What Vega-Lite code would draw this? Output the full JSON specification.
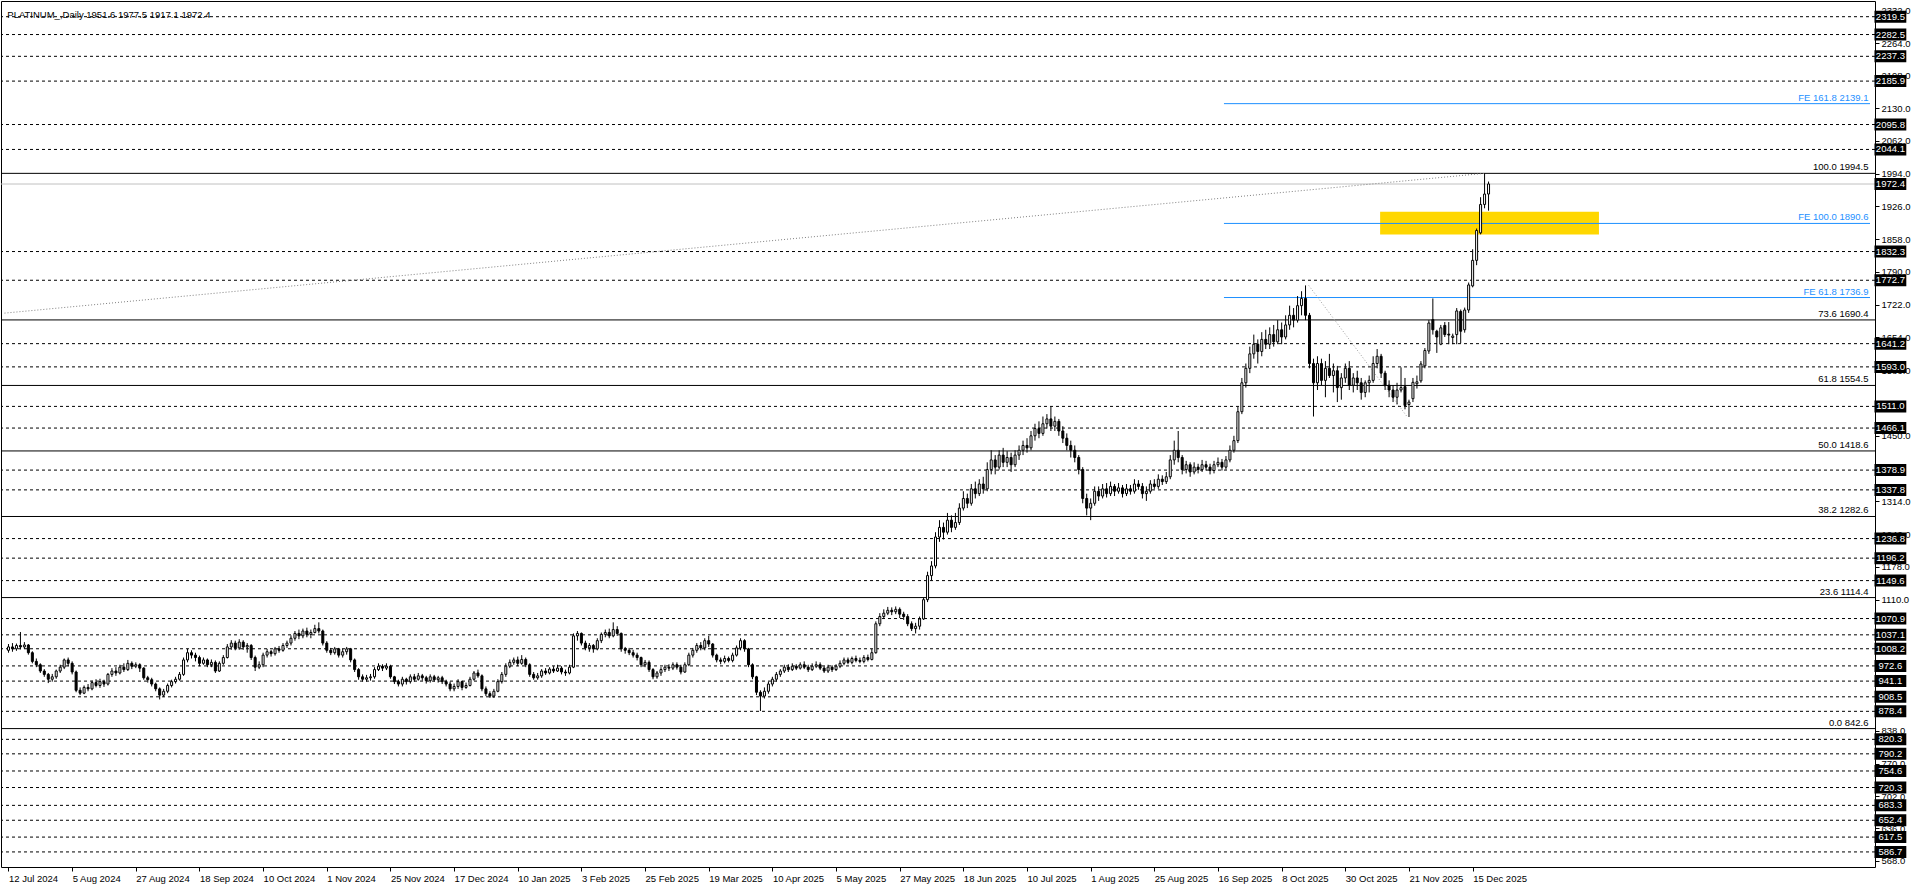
{
"$schema":"https://vega.github.io/schema/vega-lite/v6.json",
"width":1874,"height":866,
"autosize":{"type":"none"},
"padding":{"left":1,"top":1,"right":41,"bottom":21},
"background":"white",
"config":{"view":{"stroke":"#000","strokeWidth":1},"axis":{"labelFont":"Liberation Sans","labelFontSize":9.5,"labelColor":"#000","tickColor":"#000","grid":false,"domain":false}},
"datasets":{
"candles":[
{"i":0,"o":1005,"h":1018,"l":1000,"c":1012},{"i":1,"o":1012,"h":1020,"l":1002,"c":1008},{"i":2,"o":1008,"h":1019,"l":1004,"c":1015},{"i":3,"o":1015,"h":1043,"l":1007,"c":1012},{"i":4,"o":1012,"h":1022,"l":1008,"c":1016},
{"i":5,"o":1016,"h":1018,"l":996,"c":1000},{"i":6,"o":1000,"h":1003,"l":978,"c":982},{"i":7,"o":982,"h":988,"l":970,"c":975},{"i":8,"o":975,"h":978,"l":958,"c":962},{"i":9,"o":962,"h":966,"l":950,"c":955},
{"i":10,"o":955,"h":958,"l":937,"c":945},{"i":11,"o":945,"h":956,"l":940,"c":950},{"i":12,"o":950,"h":965,"l":946,"c":962},{"i":13,"o":962,"h":975,"l":958,"c":970},{"i":14,"o":970,"h":988,"l":966,"c":985},
{"i":15,"o":985,"h":990,"l":972,"c":978},{"i":16,"o":978,"h":982,"l":955,"c":960},{"i":17,"o":960,"h":963,"l":918,"c":922},{"i":18,"o":922,"h":928,"l":912,"c":916},{"i":19,"o":916,"h":932,"l":914,"c":928},
{"i":20,"o":928,"h":935,"l":920,"c":925},{"i":21,"o":925,"h":942,"l":922,"c":938},{"i":22,"o":938,"h":945,"l":928,"c":932},{"i":23,"o":932,"h":946,"l":927,"c":940},{"i":24,"o":940,"h":944,"l":929,"c":935},
{"i":25,"o":935,"h":958,"l":932,"c":955},{"i":26,"o":955,"h":968,"l":950,"c":962},{"i":27,"o":962,"h":970,"l":952,"c":958},{"i":28,"o":958,"h":975,"l":955,"c":970},{"i":29,"o":970,"h":978,"l":960,"c":965},
{"i":30,"o":965,"h":985,"l":962,"c":978},{"i":31,"o":978,"h":982,"l":966,"c":972},{"i":32,"o":972,"h":980,"l":968,"c":975},{"i":33,"o":975,"h":978,"l":960,"c":968},{"i":34,"o":968,"h":970,"l":944,"c":948},
{"i":35,"o":948,"h":952,"l":938,"c":944},{"i":36,"o":944,"h":948,"l":930,"c":935},{"i":37,"o":935,"h":938,"l":920,"c":925},{"i":38,"o":925,"h":928,"l":903,"c":912},{"i":39,"o":912,"h":925,"l":908,"c":920},
{"i":40,"o":920,"h":936,"l":916,"c":932},{"i":41,"o":932,"h":944,"l":928,"c":940},{"i":42,"o":940,"h":950,"l":936,"c":945},{"i":43,"o":945,"h":960,"l":942,"c":955},{"i":44,"o":955,"h":990,"l":952,"c":985},
{"i":45,"o":985,"h":1008,"l":980,"c":1000},{"i":46,"o":1000,"h":1005,"l":988,"c":995},{"i":47,"o":995,"h":1000,"l":982,"c":990},{"i":48,"o":990,"h":994,"l":972,"c":978},{"i":49,"o":978,"h":990,"l":975,"c":985},
{"i":50,"o":985,"h":988,"l":970,"c":975},{"i":51,"o":975,"h":986,"l":970,"c":980},{"i":52,"o":980,"h":984,"l":958,"c":962},{"i":53,"o":962,"h":982,"l":960,"c":978},{"i":54,"o":978,"h":995,"l":975,"c":990},
{"i":55,"o":990,"h":1018,"l":988,"c":1012},{"i":56,"o":1012,"h":1026,"l":1006,"c":1020},{"i":57,"o":1020,"h":1025,"l":1005,"c":1010},{"i":58,"o":1010,"h":1028,"l":1006,"c":1022},{"i":59,"o":1022,"h":1026,"l":1006,"c":1012},
{"i":60,"o":1012,"h":1020,"l":1000,"c":1015},{"i":61,"o":1015,"h":1018,"l":985,"c":990},{"i":62,"o":990,"h":994,"l":962,"c":970},{"i":63,"o":970,"h":982,"l":966,"c":975},{"i":64,"o":975,"h":1000,"l":970,"c":995},
{"i":65,"o":995,"h":1008,"l":990,"c":1002},{"i":66,"o":1002,"h":1006,"l":992,"c":998},{"i":67,"o":998,"h":1012,"l":994,"c":1008},{"i":68,"o":1008,"h":1014,"l":1000,"c":1005},{"i":69,"o":1005,"h":1020,"l":1002,"c":1015},
{"i":70,"o":1015,"h":1025,"l":1010,"c":1020},{"i":71,"o":1020,"h":1036,"l":1015,"c":1030},{"i":72,"o":1030,"h":1045,"l":1025,"c":1040},{"i":73,"o":1040,"h":1048,"l":1028,"c":1035},{"i":74,"o":1035,"h":1050,"l":1030,"c":1045},
{"i":75,"o":1045,"h":1052,"l":1032,"c":1038},{"i":76,"o":1038,"h":1048,"l":1030,"c":1042},{"i":77,"o":1042,"h":1058,"l":1040,"c":1050},{"i":78,"o":1050,"h":1063,"l":1040,"c":1045},{"i":79,"o":1045,"h":1048,"l":1015,"c":1020},
{"i":80,"o":1020,"h":1024,"l":1000,"c":1005},{"i":81,"o":1005,"h":1010,"l":995,"c":1000},{"i":82,"o":1000,"h":1012,"l":996,"c":1008},{"i":83,"o":1008,"h":1010,"l":990,"c":995},{"i":84,"o":995,"h":1008,"l":990,"c":1002},
{"i":85,"o":1002,"h":1012,"l":996,"c":1008},{"i":86,"o":1008,"h":1010,"l":980,"c":985},{"i":87,"o":985,"h":988,"l":960,"c":965},{"i":88,"o":965,"h":968,"l":944,"c":950},{"i":89,"o":950,"h":955,"l":940,"c":945},
{"i":90,"o":945,"h":954,"l":940,"c":948},{"i":91,"o":948,"h":956,"l":942,"c":950},{"i":92,"o":950,"h":970,"l":946,"c":965},{"i":93,"o":965,"h":978,"l":962,"c":972},{"i":94,"o":972,"h":976,"l":962,"c":968},
{"i":95,"o":968,"h":978,"l":964,"c":972},{"i":96,"o":972,"h":975,"l":946,"c":950},{"i":97,"o":950,"h":952,"l":935,"c":940},{"i":98,"o":940,"h":944,"l":930,"c":935},{"i":99,"o":935,"h":950,"l":930,"c":945},
{"i":100,"o":945,"h":948,"l":934,"c":940},{"i":101,"o":940,"h":955,"l":936,"c":950},{"i":102,"o":950,"h":956,"l":940,"c":945},{"i":103,"o":945,"h":958,"l":942,"c":952},{"i":104,"o":952,"h":956,"l":942,"c":948},
{"i":105,"o":948,"h":952,"l":936,"c":942},{"i":106,"o":942,"h":955,"l":938,"c":950},{"i":107,"o":950,"h":954,"l":940,"c":944},{"i":108,"o":944,"h":952,"l":938,"c":948},{"i":109,"o":948,"h":952,"l":935,"c":940},
{"i":110,"o":940,"h":944,"l":930,"c":935},{"i":111,"o":935,"h":940,"l":920,"c":925},{"i":112,"o":925,"h":936,"l":920,"c":930},{"i":113,"o":930,"h":945,"l":925,"c":940},{"i":114,"o":940,"h":942,"l":922,"c":928},
{"i":115,"o":928,"h":938,"l":925,"c":932},{"i":116,"o":932,"h":950,"l":930,"c":945},{"i":117,"o":945,"h":962,"l":942,"c":958},{"i":118,"o":958,"h":965,"l":948,"c":952},{"i":119,"o":952,"h":955,"l":920,"c":925},
{"i":120,"o":925,"h":930,"l":910,"c":915},{"i":121,"o":915,"h":920,"l":906,"c":910},{"i":122,"o":910,"h":925,"l":906,"c":920},{"i":123,"o":920,"h":945,"l":918,"c":940},{"i":124,"o":940,"h":960,"l":936,"c":955},
{"i":125,"o":955,"h":978,"l":950,"c":972},{"i":126,"o":972,"h":986,"l":968,"c":980},{"i":127,"o":980,"h":990,"l":975,"c":985},{"i":128,"o":985,"h":992,"l":972,"c":978},{"i":129,"o":978,"h":995,"l":975,"c":986},
{"i":130,"o":986,"h":990,"l":970,"c":975},{"i":131,"o":975,"h":978,"l":950,"c":955},{"i":132,"o":955,"h":960,"l":944,"c":948},{"i":133,"o":948,"h":958,"l":944,"c":952},{"i":134,"o":952,"h":966,"l":948,"c":962},
{"i":135,"o":962,"h":968,"l":954,"c":958},{"i":136,"o":958,"h":970,"l":955,"c":966},{"i":137,"o":966,"h":972,"l":958,"c":962},{"i":138,"o":962,"h":975,"l":960,"c":968},{"i":139,"o":968,"h":972,"l":955,"c":960},
{"i":140,"o":960,"h":965,"l":952,"c":958},{"i":141,"o":958,"h":975,"l":955,"c":970},{"i":142,"o":970,"h":1040,"l":968,"c":1035},{"i":143,"o":1035,"h":1045,"l":1025,"c":1040},{"i":144,"o":1040,"h":1042,"l":1015,"c":1020},
{"i":145,"o":1020,"h":1025,"l":1005,"c":1010},{"i":146,"o":1010,"h":1020,"l":1002,"c":1015},{"i":147,"o":1015,"h":1018,"l":1000,"c":1008},{"i":148,"o":1008,"h":1030,"l":1005,"c":1025},{"i":149,"o":1025,"h":1042,"l":1020,"c":1038},
{"i":150,"o":1038,"h":1048,"l":1032,"c":1042},{"i":151,"o":1042,"h":1050,"l":1030,"c":1035},{"i":152,"o":1035,"h":1063,"l":1032,"c":1048},{"i":153,"o":1048,"h":1055,"l":1035,"c":1040},{"i":154,"o":1040,"h":1042,"l":1002,"c":1008},
{"i":155,"o":1008,"h":1012,"l":998,"c":1005},{"i":156,"o":1005,"h":1010,"l":995,"c":1000},{"i":157,"o":1000,"h":1006,"l":990,"c":995},{"i":158,"o":995,"h":1000,"l":984,"c":990},{"i":159,"o":990,"h":992,"l":970,"c":975},
{"i":160,"o":975,"h":985,"l":970,"c":980},{"i":161,"o":980,"h":984,"l":960,"c":965},{"i":162,"o":965,"h":968,"l":945,"c":950},{"i":163,"o":950,"h":962,"l":946,"c":958},{"i":164,"o":958,"h":970,"l":952,"c":965},
{"i":165,"o":965,"h":975,"l":960,"c":970},{"i":166,"o":970,"h":976,"l":962,"c":968},{"i":167,"o":968,"h":980,"l":964,"c":975},{"i":168,"o":975,"h":980,"l":965,"c":970},{"i":169,"o":970,"h":975,"l":955,"c":960},
{"i":170,"o":960,"h":980,"l":958,"c":975},{"i":171,"o":975,"h":1000,"l":972,"c":995},{"i":172,"o":995,"h":1010,"l":990,"c":1005},{"i":173,"o":1005,"h":1020,"l":1000,"c":1015},{"i":174,"o":1015,"h":1022,"l":1005,"c":1010},
{"i":175,"o":1010,"h":1030,"l":1005,"c":1025},{"i":176,"o":1025,"h":1035,"l":1012,"c":1018},{"i":177,"o":1018,"h":1020,"l":990,"c":995},{"i":178,"o":995,"h":998,"l":980,"c":985},{"i":179,"o":985,"h":990,"l":976,"c":982},
{"i":180,"o":982,"h":994,"l":978,"c":988},{"i":181,"o":988,"h":992,"l":980,"c":984},{"i":182,"o":984,"h":1000,"l":980,"c":995},{"i":183,"o":995,"h":1015,"l":992,"c":1010},{"i":184,"o":1010,"h":1030,"l":1005,"c":1025},
{"i":185,"o":1025,"h":1028,"l":1002,"c":1008},{"i":186,"o":1008,"h":1010,"l":970,"c":975},{"i":187,"o":975,"h":978,"l":945,"c":950},{"i":188,"o":950,"h":952,"l":912,"c":918},{"i":189,"o":918,"h":922,"l":879,"c":910},
{"i":190,"o":910,"h":928,"l":905,"c":920},{"i":191,"o":920,"h":940,"l":915,"c":935},{"i":192,"o":935,"h":950,"l":930,"c":945},{"i":193,"o":945,"h":960,"l":940,"c":955},{"i":194,"o":955,"h":966,"l":950,"c":962},
{"i":195,"o":962,"h":975,"l":958,"c":970},{"i":196,"o":970,"h":976,"l":960,"c":965},{"i":197,"o":965,"h":978,"l":962,"c":972},{"i":198,"o":972,"h":976,"l":964,"c":968},{"i":199,"o":968,"h":980,"l":965,"c":975},
{"i":200,"o":975,"h":982,"l":966,"c":970},{"i":201,"o":970,"h":975,"l":960,"c":965},{"i":202,"o":965,"h":978,"l":962,"c":972},{"i":203,"o":972,"h":982,"l":968,"c":975},{"i":204,"o":975,"h":980,"l":964,"c":968},
{"i":205,"o":968,"h":972,"l":958,"c":962},{"i":206,"o":962,"h":975,"l":958,"c":970},{"i":207,"o":970,"h":974,"l":960,"c":965},{"i":208,"o":965,"h":976,"l":962,"c":972},{"i":209,"o":972,"h":984,"l":968,"c":978},
{"i":210,"o":978,"h":990,"l":974,"c":985},{"i":211,"o":985,"h":990,"l":976,"c":980},{"i":212,"o":980,"h":992,"l":976,"c":988},{"i":213,"o":988,"h":994,"l":980,"c":984},{"i":214,"o":984,"h":990,"l":978,"c":982},
{"i":215,"o":982,"h":995,"l":978,"c":990},{"i":216,"o":990,"h":996,"l":982,"c":986},{"i":217,"o":986,"h":1008,"l":984,"c":1000},{"i":218,"o":1000,"h":1065,"l":998,"c":1060},{"i":219,"o":1060,"h":1082,"l":1055,"c":1075},
{"i":220,"o":1075,"h":1090,"l":1070,"c":1082},{"i":221,"o":1082,"h":1095,"l":1078,"c":1088},{"i":222,"o":1088,"h":1094,"l":1078,"c":1085},{"i":223,"o":1085,"h":1096,"l":1080,"c":1090},{"i":224,"o":1090,"h":1094,"l":1072,"c":1080},
{"i":225,"o":1080,"h":1085,"l":1068,"c":1075},{"i":226,"o":1075,"h":1080,"l":1055,"c":1060},{"i":227,"o":1060,"h":1065,"l":1045,"c":1050},{"i":228,"o":1050,"h":1062,"l":1040,"c":1055},{"i":229,"o":1055,"h":1075,"l":1048,"c":1070},
{"i":230,"o":1070,"h":1115,"l":1068,"c":1110},{"i":231,"o":1110,"h":1168,"l":1105,"c":1160},{"i":232,"o":1160,"h":1190,"l":1150,"c":1180},{"i":233,"o":1180,"h":1250,"l":1175,"c":1240},{"i":234,"o":1240,"h":1275,"l":1230,"c":1260},
{"i":235,"o":1260,"h":1270,"l":1235,"c":1250},{"i":236,"o":1250,"h":1290,"l":1245,"c":1275},{"i":237,"o":1275,"h":1285,"l":1250,"c":1260},{"i":238,"o":1260,"h":1290,"l":1255,"c":1270},{"i":239,"o":1270,"h":1310,"l":1265,"c":1300},
{"i":240,"o":1300,"h":1335,"l":1295,"c":1320},{"i":241,"o":1320,"h":1330,"l":1300,"c":1310},{"i":242,"o":1310,"h":1350,"l":1305,"c":1340},{"i":243,"o":1340,"h":1355,"l":1320,"c":1330},{"i":244,"o":1330,"h":1360,"l":1325,"c":1350},
{"i":245,"o":1350,"h":1365,"l":1330,"c":1340},{"i":246,"o":1340,"h":1395,"l":1335,"c":1380},{"i":247,"o":1380,"h":1420,"l":1370,"c":1400},{"i":248,"o":1400,"h":1410,"l":1370,"c":1385},{"i":249,"o":1385,"h":1420,"l":1380,"c":1410},
{"i":250,"o":1410,"h":1425,"l":1385,"c":1395},{"i":251,"o":1395,"h":1418,"l":1385,"c":1405},{"i":252,"o":1405,"h":1415,"l":1375,"c":1390},{"i":253,"o":1390,"h":1420,"l":1385,"c":1410},{"i":254,"o":1410,"h":1430,"l":1400,"c":1420},
{"i":255,"o":1420,"h":1440,"l":1410,"c":1430},{"i":256,"o":1430,"h":1445,"l":1415,"c":1425},{"i":257,"o":1425,"h":1460,"l":1420,"c":1450},{"i":258,"o":1450,"h":1475,"l":1440,"c":1465},{"i":259,"o":1465,"h":1480,"l":1445,"c":1455},
{"i":260,"o":1455,"h":1490,"l":1450,"c":1475},{"i":261,"o":1475,"h":1495,"l":1465,"c":1485},{"i":262,"o":1485,"h":1510,"l":1460,"c":1470},{"i":263,"o":1470,"h":1490,"l":1460,"c":1480},{"i":264,"o":1480,"h":1485,"l":1450,"c":1460},
{"i":265,"o":1460,"h":1470,"l":1435,"c":1445},{"i":266,"o":1445,"h":1455,"l":1420,"c":1430},{"i":267,"o":1430,"h":1440,"l":1405,"c":1420},{"i":268,"o":1420,"h":1430,"l":1395,"c":1405},{"i":269,"o":1405,"h":1410,"l":1370,"c":1380},
{"i":270,"o":1380,"h":1385,"l":1310,"c":1320},{"i":271,"o":1320,"h":1330,"l":1285,"c":1300},{"i":272,"o":1300,"h":1320,"l":1275,"c":1310},{"i":273,"o":1310,"h":1345,"l":1305,"c":1335},{"i":274,"o":1335,"h":1345,"l":1315,"c":1325},
{"i":275,"o":1325,"h":1350,"l":1320,"c":1340},{"i":276,"o":1340,"h":1352,"l":1322,"c":1330},{"i":277,"o":1330,"h":1355,"l":1325,"c":1345},{"i":278,"o":1345,"h":1350,"l":1325,"c":1335},{"i":279,"o":1335,"h":1352,"l":1330,"c":1342},
{"i":280,"o":1342,"h":1348,"l":1322,"c":1330},{"i":281,"o":1330,"h":1350,"l":1325,"c":1340},{"i":282,"o":1340,"h":1348,"l":1328,"c":1335},{"i":283,"o":1335,"h":1360,"l":1330,"c":1350},{"i":284,"o":1350,"h":1358,"l":1338,"c":1345},
{"i":285,"o":1345,"h":1352,"l":1320,"c":1330},{"i":286,"o":1330,"h":1345,"l":1315,"c":1335},{"i":287,"o":1335,"h":1358,"l":1330,"c":1350},{"i":288,"o":1350,"h":1360,"l":1340,"c":1345},{"i":289,"o":1345,"h":1370,"l":1340,"c":1360},
{"i":290,"o":1360,"h":1368,"l":1348,"c":1355},{"i":291,"o":1355,"h":1375,"l":1350,"c":1365},{"i":292,"o":1365,"h":1410,"l":1360,"c":1400},{"i":293,"o":1400,"h":1440,"l":1390,"c":1420},{"i":294,"o":1420,"h":1460,"l":1395,"c":1405},
{"i":295,"o":1405,"h":1410,"l":1370,"c":1380},{"i":296,"o":1380,"h":1398,"l":1372,"c":1390},{"i":297,"o":1390,"h":1395,"l":1365,"c":1375},{"i":298,"o":1375,"h":1395,"l":1370,"c":1385},{"i":299,"o":1385,"h":1392,"l":1372,"c":1380},
{"i":300,"o":1380,"h":1400,"l":1375,"c":1390},{"i":301,"o":1390,"h":1398,"l":1378,"c":1385},{"i":302,"o":1385,"h":1392,"l":1370,"c":1378},{"i":303,"o":1378,"h":1398,"l":1372,"c":1390},{"i":304,"o":1390,"h":1405,"l":1385,"c":1395},
{"i":305,"o":1395,"h":1402,"l":1378,"c":1385},{"i":306,"o":1385,"h":1408,"l":1380,"c":1400},{"i":307,"o":1400,"h":1430,"l":1395,"c":1420},{"i":308,"o":1420,"h":1450,"l":1415,"c":1440},{"i":309,"o":1440,"h":1510,"l":1435,"c":1500},
{"i":310,"o":1500,"h":1570,"l":1495,"c":1560},{"i":311,"o":1560,"h":1600,"l":1550,"c":1590},{"i":312,"o":1590,"h":1635,"l":1580,"c":1620},{"i":313,"o":1620,"h":1660,"l":1610,"c":1640},{"i":314,"o":1640,"h":1650,"l":1600,"c":1625},
{"i":315,"o":1625,"h":1665,"l":1615,"c":1650},{"i":316,"o":1650,"h":1670,"l":1630,"c":1640},{"i":317,"o":1640,"h":1675,"l":1630,"c":1660},{"i":318,"o":1660,"h":1680,"l":1635,"c":1645},{"i":319,"o":1645,"h":1690,"l":1640,"c":1670},
{"i":320,"o":1670,"h":1685,"l":1640,"c":1655},{"i":321,"o":1655,"h":1700,"l":1650,"c":1680},{"i":322,"o":1680,"h":1720,"l":1670,"c":1700},{"i":323,"o":1700,"h":1715,"l":1675,"c":1690},{"i":324,"o":1690,"h":1740,"l":1685,"c":1720},
{"i":325,"o":1720,"h":1750,"l":1700,"c":1735},{"i":326,"o":1735,"h":1762,"l":1690,"c":1700},{"i":327,"o":1700,"h":1705,"l":1590,"c":1600},{"i":328,"o":1600,"h":1610,"l":1490,"c":1560},{"i":329,"o":1560,"h":1615,"l":1545,"c":1600},
{"i":330,"o":1600,"h":1610,"l":1555,"c":1565},{"i":331,"o":1565,"h":1605,"l":1530,"c":1590},{"i":332,"o":1590,"h":1620,"l":1570,"c":1575},{"i":333,"o":1575,"h":1600,"l":1540,"c":1585},{"i":334,"o":1585,"h":1595,"l":1520,"c":1550},
{"i":335,"o":1550,"h":1580,"l":1525,"c":1570},{"i":336,"o":1570,"h":1600,"l":1560,"c":1590},{"i":337,"o":1590,"h":1605,"l":1545,"c":1555},{"i":338,"o":1555,"h":1580,"l":1540,"c":1570},{"i":339,"o":1570,"h":1585,"l":1545,"c":1560},
{"i":340,"o":1560,"h":1570,"l":1525,"c":1540},{"i":341,"o":1540,"h":1565,"l":1530,"c":1560},{"i":342,"o":1560,"h":1575,"l":1540,"c":1565},{"i":343,"o":1565,"h":1615,"l":1560,"c":1600},{"i":344,"o":1600,"h":1630,"l":1590,"c":1615},
{"i":345,"o":1615,"h":1620,"l":1570,"c":1580},{"i":346,"o":1580,"h":1585,"l":1545,"c":1555},{"i":347,"o":1555,"h":1565,"l":1530,"c":1545},{"i":348,"o":1545,"h":1555,"l":1520,"c":1530},{"i":349,"o":1530,"h":1560,"l":1515,"c":1545},
{"i":350,"o":1545,"h":1592,"l":1540,"c":1550},{"i":351,"o":1552,"h":1570,"l":1505,"c":1513},{"i":352,"o":1515,"h":1525,"l":1489,"c":1520},{"i":353,"o":1527,"h":1570,"l":1520,"c":1561},{"i":354,"o":1558,"h":1575,"l":1548,"c":1562},
{"i":355,"o":1564,"h":1605,"l":1560,"c":1599},{"i":356,"o":1595,"h":1632,"l":1590,"c":1627},{"i":357,"o":1626,"h":1690,"l":1620,"c":1684},{"i":358,"o":1691,"h":1735,"l":1660,"c":1670},{"i":359,"o":1667,"h":1670,"l":1622,"c":1655},
{"i":360,"o":1640,"h":1680,"l":1638,"c":1674},{"i":361,"o":1679,"h":1686,"l":1655,"c":1660},{"i":362,"o":1661,"h":1686,"l":1640,"c":1659},{"i":363,"o":1654,"h":1662,"l":1640,"c":1657},{"i":364,"o":1660,"h":1715,"l":1640,"c":1709},
{"i":365,"o":1708,"h":1712,"l":1642,"c":1667},{"i":366,"o":1670,"h":1716,"l":1664,"c":1711},{"i":367,"o":1711,"h":1768,"l":1705,"c":1763},{"i":368,"o":1761,"h":1837,"l":1758,"c":1814},{"i":369,"o":1814,"h":1880,"l":1804,"c":1876},
{"i":370,"o":1871,"h":1945,"l":1868,"c":1930},{"i":371,"o":1930,"h":1994.5,"l":1922,"c":1951.6},{"i":372,"o":1951.6,"h":1977.5,"l":1917.1,"c":1972.4}
],
"levels":[{"v":2319.5},{"v":2282.5},{"v":2237.3},{"v":2185.9},{"v":2095.8},{"v":2044.1},{"v":1832.3},{"v":1772.7},{"v":1641.2},{"v":1593.0},{"v":1511.0},{"v":1466.1},{"v":1378.9},{"v":1337.8},{"v":1236.8},{"v":1196.2},{"v":1149.6},{"v":1070.9},{"v":1037.1},{"v":1008.2},{"v":972.6},{"v":941.1},{"v":908.5},{"v":878.4},{"v":820.3},{"v":790.2},{"v":754.6},{"v":720.3},{"v":683.3},{"v":652.4},{"v":617.5},{"v":586.7}],
"boxes":[{"v":2319.5},{"v":2282.5},{"v":2237.3},{"v":2185.9},{"v":2095.8},{"v":2044.1},{"v":1972.4},{"v":1832.3},{"v":1772.7},{"v":1641.2},{"v":1593.0},{"v":1511.0},{"v":1466.1},{"v":1378.9},{"v":1337.8},{"v":1236.8},{"v":1196.2},{"v":1149.6},{"v":1070.9},{"v":1037.1},{"v":1008.2},{"v":972.6},{"v":941.1},{"v":908.5},{"v":878.4},{"v":820.3},{"v":790.2},{"v":754.6},{"v":720.3},{"v":683.3},{"v":652.4},{"v":617.5},{"v":586.7}],
"fibs":[{"v":1994.5,"t":"100.0 1994.5"},{"v":1690.4,"t":"73.6 1690.4"},{"v":1554.5,"t":"61.8 1554.5"},{"v":1418.6,"t":"50.0 1418.6"},{"v":1282.6,"t":"38.2 1282.6"},{"v":1114.4,"t":"23.6 1114.4"},{"v":842.6,"t":"0.0 842.6"}],
"fe":[{"v":2139.1,"t":"FE 161.8 2139.1","s":305.5,"e":467.875},{"v":1890.6,"t":"FE 100.0 1890.6","s":305.5,"e":467.875},{"v":1736.9,"t":"FE 61.8 1736.9","s":305.5,"e":467.875}],
"diag":[{"i":-1,"p":1704.5},{"i":371,"p":1994.5}],
"feline":[{"i":326.8,"p":1762},{"i":351.6,"p":1489}],
"zone":[{"a":344.75,"b":399.75,"lo":1867.9,"hi":1915.1}],
"title":[{"t":"PLATINUM_,Daily  1951.6 1977.5 1917.1 1972.4","i":-0.3,"p":2322}]
},
"layer":[
{"data":{"name":"zone"},"mark":{"type":"rect","color":"#FFD700"},
 "encoding":{"x":{"field":"a","type":"quantitative","title":null,"scale":{"domain":[-0.625,467.875],"nice":false,"zero":false},
   "axis":{"title":null,"values":[0,16,32,48,64,80,96,112,128,144,160,176,192,208,224,240,256,272,288,304,320,336,352,368],"labelExpr":"['12 Jul 2024','5 Aug 2024','27 Aug 2024','18 Sep 2024','10 Oct 2024','1 Nov 2024','25 Nov 2024','17 Dec 2024','10 Jan 2025','3 Feb 2025','25 Feb 2025','19 Mar 2025','10 Apr 2025','5 May 2025','27 May 2025','18 Jun 2025','10 Jul 2025','1 Aug 2025','25 Aug 2025','16 Sep 2025','8 Oct 2025','30 Oct 2025','21 Nov 2025','15 Dec 2025'][round(datum.value/16)]","labelAlign":"left","labelBaseline":"top","labelPadding":2,"tickSize":4,"labelFlush":false,"labelOverlap":false,"orient":"bottom"}},
  "x2":{"field":"b"},
  "y":{"field":"lo","type":"quantitative","title":null,"scale":{"domain":[565.8,2341.7],"nice":false,"zero":false},
   "axis":{"title":null,"orient":"right","values":[568,636,702,770,838,1110,1178,1246,1314,1450,1586,1654,1722,1790,1858,1926,1994,2062,2130,2198,2264,2332],"format":".1f","tickSize":4,"labelPadding":2,"labelOverlap":false,"labelFlush":false,"labelAlign":"left","labelBaseline":"middle"}},
  "y2":{"field":"hi"}}},
{"data":{"name":"levels"},"mark":{"type":"rule","color":"#000","strokeWidth":1,"strokeDash":[3,3]},
 "encoding":{"y":{"field":"v","type":"quantitative","title":null,"scale":{"domain":[565.8,2341.7],"nice":false,"zero":false}}}},
{"data":{"values":[{"v":1972.4}]},"mark":{"type":"rule","color":"#C0C0C0","strokeWidth":1},
 "encoding":{"y":{"field":"v","type":"quantitative","title":null,"scale":{"domain":[565.8,2341.7],"nice":false,"zero":false}}}},
{"data":{"name":"fibs"},"mark":{"type":"rule","color":"#000","strokeWidth":1},
 "encoding":{"y":{"field":"v","type":"quantitative","title":null,"scale":{"domain":[565.8,2341.7],"nice":false,"zero":false}}}},
{"data":{"name":"fe"},"mark":{"type":"rule","color":"#1E90FF","strokeWidth":1},
 "encoding":{"x":{"field":"s","type":"quantitative","title":null,"scale":{"domain":[-0.625,467.875],"nice":false,"zero":false}},"x2":{"field":"e"},
 "y":{"field":"v","type":"quantitative","title":null,"scale":{"domain":[565.8,2341.7],"nice":false,"zero":false}}}},
{"data":{"name":"diag"},"mark":{"type":"line","color":"#808080","strokeWidth":1,"strokeDash":[1,2],"clip":true},
 "encoding":{"x":{"field":"i","type":"quantitative","title":null,"scale":{"domain":[-0.625,467.875],"nice":false,"zero":false}},
 "y":{"field":"p","type":"quantitative","title":null,"scale":{"domain":[565.8,2341.7],"nice":false,"zero":false}}}},
{"data":{"name":"feline"},"mark":{"type":"line","color":"#A0A0A0","strokeWidth":1,"strokeDash":[1,2]},
 "encoding":{"x":{"field":"i","type":"quantitative","title":null,"scale":{"domain":[-0.625,467.875],"nice":false,"zero":false}},
 "y":{"field":"p","type":"quantitative","title":null,"scale":{"domain":[565.8,2341.7],"nice":false,"zero":false}}}},
{"data":{"name":"fibs"},"mark":{"type":"text","align":"right","baseline":"bottom","dy":-1,"font":"Liberation Sans","fontSize":9.5,"color":"#000"},
 "encoding":{"x":{"datum":467.5,"type":"quantitative","title":null,"scale":{"domain":[-0.625,467.875],"nice":false,"zero":false}},
 "y":{"field":"v","type":"quantitative","title":null,"scale":{"domain":[565.8,2341.7],"nice":false,"zero":false}},"text":{"field":"t"}}},
{"data":{"name":"fe"},"mark":{"type":"text","align":"right","baseline":"bottom","dy":-1,"font":"Liberation Sans","fontSize":9.5,"color":"#1E90FF"},
 "encoding":{"x":{"datum":467.5,"type":"quantitative","title":null,"scale":{"domain":[-0.625,467.875],"nice":false,"zero":false}},
 "y":{"field":"v","type":"quantitative","title":null,"scale":{"domain":[565.8,2341.7],"nice":false,"zero":false}},"text":{"field":"t"}}},
{"data":{"name":"title"},"mark":{"type":"text","align":"left","baseline":"middle","font":"Liberation Sans","fontSize":9.5,"color":"#000"},
 "encoding":{"x":{"field":"i","type":"quantitative","title":null,"scale":{"domain":[-0.625,467.875],"nice":false,"zero":false}},
 "y":{"field":"p","type":"quantitative","title":null,"scale":{"domain":[565.8,2341.7],"nice":false,"zero":false}},"text":{"field":"t"}}},
{"data":{"name":"candles"},"mark":{"type":"rule","color":"#000","strokeWidth":1},
 "encoding":{"x":{"field":"i","type":"quantitative","title":null,"scale":{"domain":[-0.625,467.875],"nice":false,"zero":false}},
 "y":{"field":"l","type":"quantitative","title":null,"scale":{"domain":[565.8,2341.7],"nice":false,"zero":false}},
 "y2":{"field":"h"}}},
{"data":{"name":"candles"},"mark":{"type":"bar","orient":"vertical","size":2,"stroke":"#000","strokeWidth":1},
 "encoding":{"x":{"field":"i","type":"quantitative","title":null,"scale":{"domain":[-0.625,467.875],"nice":false,"zero":false}},
 "y":{"field":"o","type":"quantitative","title":null,"scale":{"domain":[565.8,2341.7],"nice":false,"zero":false}},"y2":{"field":"c"},
 "fill":{"condition":{"test":"datum.c >= datum.o","value":"#FFFFFF"},"value":"#000000"}}},
{"data":{"name":"boxes"},"mark":{"type":"bar","orient":"horizontal","size":12,"color":"#000"},
 "encoding":{"x":{"datum":469,"type":"quantitative","title":null,"scale":{"domain":[-0.625,467.875],"nice":false,"zero":false}},"x2":{"datum":477},
 "y":{"field":"v","type":"quantitative","title":null,"scale":{"domain":[565.8,2341.7],"nice":false,"zero":false}}}},
{"data":{"name":"boxes"},"mark":{"type":"text","align":"center","baseline":"middle","font":"Liberation Sans","fontSize":9.5,"color":"#FFFFFF"},
 "encoding":{"x":{"datum":473,"type":"quantitative","title":null,"scale":{"domain":[-0.625,467.875],"nice":false,"zero":false}},
 "y":{"field":"v","type":"quantitative","title":null,"scale":{"domain":[565.8,2341.7],"nice":false,"zero":false}},"text":{"field":"v","format":".1f"}}}
]
}
